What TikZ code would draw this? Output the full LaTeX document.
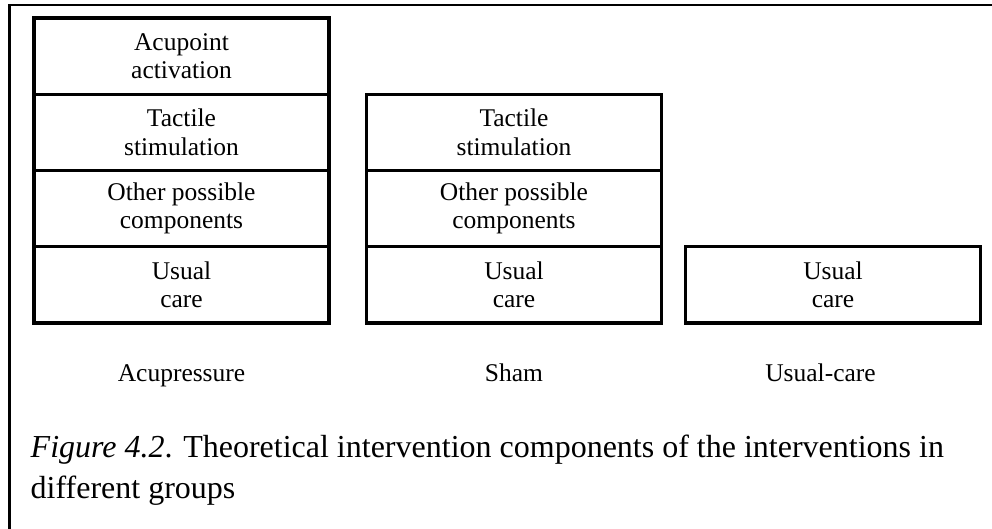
\documentclass[tikz,border=0pt]{standalone}
\usepackage{fontspec}
\setmainfont{Liberation Serif}
\begin{document}
\begin{tikzpicture}[x=1pt,y=-1pt,
  seg/.style={draw,line width=3.2pt,minimum width=295pt,minimum height=76.25pt,
    inner sep=0pt,align=center,font=\fontsize{25.5}{28.5}\selectfont},
  grp/.style={inner sep=0pt,anchor=base,font=\fontsize{25.5}{28}\selectfont},
  captext/.style={inner sep=0pt,anchor=base west,font=\fontsize{32}{41}\selectfont},
  framerule/.style={line width=2.6pt}]
\useasboundingbox (0,0) rectangle (992,529);
% open frame: top and left sides only
\coordinate (ftl) at (9.5,5);
\coordinate (ftr) at (995,5);
\coordinate (fbl) at (9.5,532);
\draw[framerule] (ftr) -- (ftl) -- (fbl);
% Acupressure stack
\node[seg] (a1) at (181.5,56.1) {Acupoint\\activation};
\node[seg] (a2) at (181.5,132.4) {Tactile\\stimulation};
\node[seg] (a3) at (181.5,208.6) {Other possible\\components};
\node[seg] (a4) at (181.5,284.9) {Usual\\care};
% Sham stack
\node[seg] (s2) at (514,132.4) {Tactile\\stimulation};
\node[seg] (s3) at (514,208.6) {Other possible\\components};
\node[seg] (s4) at (514,284.9) {Usual\\care};
% Usual-care stack
\node[seg] (u4) at (833,284.9) {Usual\\care};
% group labels
\node[grp] (la) at (181.5,381) {Acupressure};
\node[grp] (ls) at (514,381) {Sham};
\node[grp] (lu) at (820.5,381) {Usual-care};
% caption
\node[captext] (c1) at (30.5,457) {\textit{Figure 4.2}. Theoretical intervention components of the interventions in};
\node[captext] (c2) at (30.5,498) {different groups};
\end{tikzpicture}
\end{document}
